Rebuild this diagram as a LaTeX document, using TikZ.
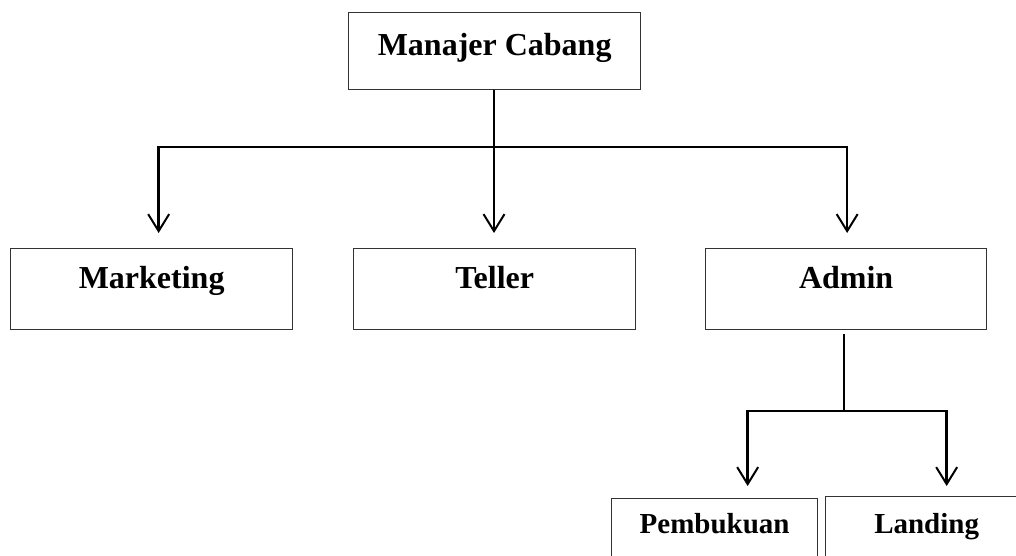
\documentclass[tikz,border=0pt]{standalone}
\usepackage{fontspec}
\setmainfont{Liberation Serif}
\usetikzlibrary{arrows.meta}
\begin{document}
\begin{tikzpicture}[x=1pt,y=-1pt,
  box/.style={draw=black!80,line width=1.3pt,inner sep=0pt,anchor=north west,font=\bfseries\fontsize{32}{38}\selectfont},
  sbox/.style={box,font=\bfseries\fontsize{29}{34}\selectfont},
  conn/.style={line width=2.4pt,black},
  arr/.style={conn,-{Straight Barb[length=17pt,width=21pt,line width=2pt]}}]
\useasboundingbox (0,0) rectangle (1016,555);
\clip (0,0) rectangle (1016,555);
\node[box,minimum width=292pt,text height=43pt,text depth=34pt] (mc) at (348,12) {Manajer Cabang};
\node[box,minimum width=282pt,text height=40pt,text depth=41pt] (mk) at (10,248) {Marketing};
\node[box,minimum width=282pt,text height=40pt,text depth=41pt] (tl) at (353,248) {Teller};
\node[box,minimum width=281pt,text height=40pt,text depth=41pt] (ad) at (705,248) {Admin};
\node[sbox,minimum width=206pt,text height=35pt,text depth=40pt] (pb) at (611,498) {Pembukuan};
\node[sbox,minimum width=202pt,text height=37pt,text depth=40pt] (ld) at (825,496) {Landing};
\coordinate (j1) at (494,147);
\coordinate (j2) at (844,411);
\draw[conn] (mc.south -| j1) -- (j1);
\draw[arr,shorten >=15pt] (j1) -| ([xshift=7pt]mk.north);
\draw[arr,shorten >=15pt] (j1) -- (j1 |- tl.north);
\draw[arr,shorten >=15pt] (j1) -| ([xshift=1pt]ad.north);
\draw[conn,shorten <=4pt] (ad.south -| j2) -- (j2);
\draw[arr,shorten >=12pt] (j2) -| ([xshift=33pt]pb.north);
\draw[arr,shorten >=10pt] (j2) -| ([xshift=20pt]ld.north);
\end{tikzpicture}
\end{document}
